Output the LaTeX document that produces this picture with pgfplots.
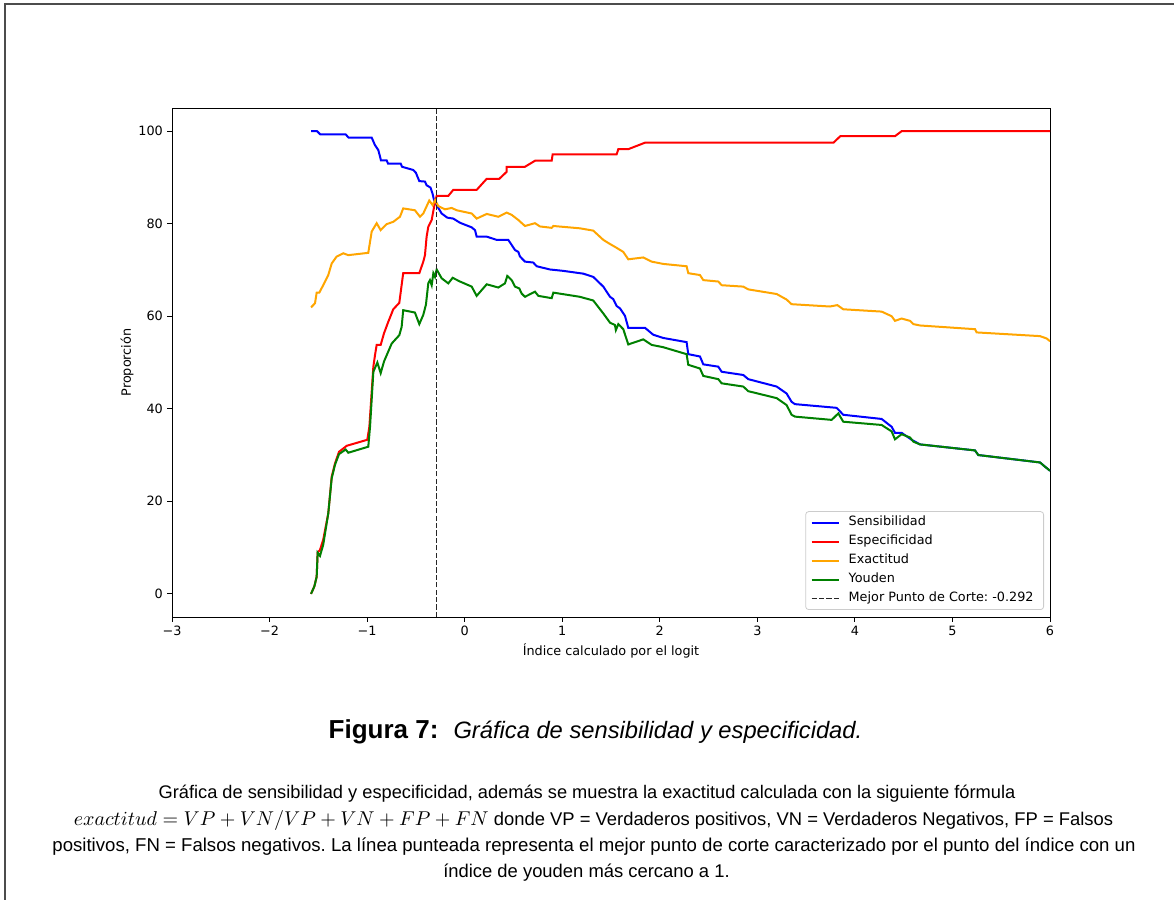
\documentclass[border=0pt]{standalone}
\usepackage{pgfplots}
\pgfplotsset{compat=1.18}
\usepackage{fontspec}
\setmainfont{Liberation Sans}
\newfontfamily\dejavu{DejaVu Sans}
\definecolor{cblue}{RGB}{0,0,255}
\definecolor{cred}{RGB}{255,0,0}
\definecolor{corange}{RGB}{255,165,0}
\definecolor{cgreen}{RGB}{0,128,0}
\newcommand{\tf}{\dejavu\fontsize{6.4}{7.6}\selectfont}
\frenchspacing
\begin{document}
\begin{tikzpicture}
\path[use as bounding box] (0,0) rectangle (587pt,450pt);
\draw[black!70, line width=0.7pt] (2.5pt,0pt) -- (2.5pt,448pt) -- (587pt,448pt);
\begin{axis}[
  at={(86pt,141.5pt)}, anchor=south west,
  scale only axis, width=439pt, height=254.5pt,
  xmin=-3, xmax=6, ymin=-5, ymax=105,
  xtick={-3,-2,-1,0,1,2,3,4,5,6},
  xticklabels={−3,−2,−1,0,1,2,3,4,5,6},
  ytick={0,20,40,60,80,100},
  yticklabels={0,20,40,60,80,100},
  tick pos=left, tick align=outside, major tick length=2.4pt,
  tick style={black, line width=0.4pt},
  axis line style={black, line width=0.4pt},
  ticklabel style={font=\tf, inner sep=0pt},
  xticklabel style={anchor=north},
  yticklabel style={anchor=east},
  xticklabel shift=1.8pt,
  yticklabel shift=2pt,
  xlabel={Índice calculado por el logit},
  ylabel={Proporción},
  label style={font=\tf},
  xlabel style={at={(axis description cs:0.5,0)}, anchor=center, yshift=-17pt},
  ylabel style={at={(axis description cs:0,0.5)}, anchor=center, yshift=22.5pt},
  legend style={at={(1,0)}, anchor=south east, xshift=-3pt, yshift=3.5pt,
    draw=black!20, rounded corners=1.5pt, fill=white, font=\tf,
    inner xsep=2.5pt, inner ysep=0.75pt, row sep=0pt,
    nodes={inner ysep=1.75pt, inner xsep=2.5pt, text height=4.7pt, text depth=1.3pt},
    /tikz/every odd column/.append style={column sep=2pt}},
  legend cell align=left,
  legend image code/.code={\draw[#1] (0pt,0pt) -- (13.5pt,0pt);},
  every axis plot/.append style={line width=1pt},
]
\addplot[cblue] coordinates {
(-1.575,100) (-1.514,100) (-1.48,99.3) (-1.22,99.3) (-1.19,98.6) (-0.953,98.6)
(-0.92,97.0) (-0.885,95.9) (-0.858,93.7) (-0.80,93.7) (-0.786,93.0) (-0.656,93.0)
(-0.642,92.3) (-0.527,91.6) (-0.50,91.0) (-0.465,89.2) (-0.407,89.1) (-0.39,88.3)
(-0.35,87.8) (-0.328,86.4) (-0.314,85.1) (-0.287,84.0) (-0.236,82.2) (-0.178,81.3)
(-0.117,81.1) (-0.048,80.2) (0.072,79.2) (0.106,78.6) (0.123,77.2) (0.226,77.2)
(0.328,76.5) (0.447,76.5) (0.482,75.4) (0.516,74.3) (0.55,73.9) (0.567,72.9)
(0.618,71.8) (0.703,71.6) (0.738,70.8) (0.875,70.1) (1.011,69.8) (1.216,69.2)
(1.318,68.5) (1.421,66.4) (1.49,64.2) (1.523,63.7) (1.558,62.2) (1.592,61.7)
(1.643,60.1) (1.677,57.5) (1.848,57.5) (1.933,56.0) (2.036,55.3) (2.275,54.4)
(2.292,51.8) (2.412,51.3) (2.446,49.6) (2.60,49.1) (2.634,48.0) (2.856,47.3)
(2.907,46.4) (3.198,44.8) (3.30,43.3) (3.351,41.5) (3.386,41.0) (3.813,40.2)
(3.881,38.7) (4.274,37.8) (4.377,36.1) (4.411,34.8) (4.479,34.8) (4.582,33.3)
(4.667,32.3) (5.231,31.0) (5.265,30.0) (5.897,28.4) (5.948,27.5) (6.0,26.6)
};
\addlegendentry{Sensibilidad}
\addplot[cred] coordinates {
(-1.575,0) (-1.541,1.6) (-1.517,3.7) (-1.507,8.9) (-1.50,9.1) (-1.483,9.5)
(-1.45,11.7) (-1.398,17.4) (-1.363,25.3) (-1.329,28.2) (-1.288,30.7) (-1.209,32.0)
(-0.998,33.3) (-0.977,36.1) (-0.936,49.1) (-0.919,51.6) (-0.902,53.8) (-0.861,53.8)
(-0.827,56.3) (-0.783,58.8) (-0.732,61.5) (-0.67,62.9) (-0.63,69.3) (-0.465,69.3)
(-0.424,71.8) (-0.407,73.2) (-0.39,77.2) (-0.373,79.3) (-0.338,80.8) (-0.32,82.9)
(-0.304,84.7) (-0.287,86.0) (-0.168,86.0) (-0.117,87.3) (0.123,87.3) (0.226,89.7)
(0.355,89.7) (0.43,91.2) (0.43,92.3) (0.618,92.3) (0.721,93.6) (0.892,93.6)
(0.902,95.0) (1.558,95.0) (1.575,96.1) (1.677,96.1) (1.848,97.5) (3.78,97.5)
(3.85,98.9) (4.41,98.9) (4.48,100) (6.0,100)
};
\addlegendentry{Especificidad}
\addplot[corange] coordinates {
(-1.575,61.9) (-1.534,62.8) (-1.517,65.1) (-1.49,65.1) (-1.45,66.7) (-1.398,68.9)
(-1.363,71.4) (-1.312,72.9) (-1.244,73.6) (-1.193,73.2) (-0.988,73.7) (-0.953,78.3)
(-0.902,80.1) (-0.861,78.6) (-0.80,79.9) (-0.732,80.4) (-0.663,81.5) (-0.63,83.3)
(-0.51,82.9) (-0.458,81.5) (-0.424,82.2) (-0.363,85.0) (-0.328,84.0) (-0.304,85.1)
(-0.27,83.8) (-0.202,83.1) (-0.133,83.4) (-0.082,82.9) (0.072,82.2) (0.123,81.1)
(0.226,82.1) (0.345,81.5) (0.43,82.4) (0.482,81.9) (0.55,80.8) (0.618,79.5)
(0.721,80.1) (0.772,79.4) (0.892,79.1) (0.909,79.5) (1.18,79.0) (1.318,78.5)
(1.421,76.5) (1.49,75.6) (1.54,75.0) (1.626,73.9) (1.677,72.3) (1.831,72.7)
(1.917,71.8) (2.036,71.3) (2.275,70.8) (2.292,69.3) (2.412,68.9) (2.446,67.8)
(2.60,67.5) (2.634,66.7) (2.856,66.4) (2.907,65.8) (3.198,64.8) (3.30,63.6)
(3.351,62.6) (3.744,62.1) (3.82,62.4) (3.881,61.5) (4.274,61.0) (4.377,60.0)
(4.411,59.0) (4.479,59.5) (4.565,59.0) (4.599,58.3) (4.667,58.0) (5.231,57.2)
(5.248,56.5) (5.897,55.7) (5.965,55.2) (6.0,54.6)
};
\addlegendentry{Exactitud}
\addplot[cgreen] coordinates {
(-1.575,0) (-1.541,1.6) (-1.517,3.7) (-1.507,8.9) (-1.483,8.2) (-1.45,10.6)
(-1.398,17.4) (-1.363,25.0) (-1.329,27.9) (-1.288,30.2) (-1.22,31.2) (-1.193,30.5)
(-0.988,31.8) (-0.97,36.1) (-0.936,48.0) (-0.895,50.0) (-0.861,47.7) (-0.827,50.2)
(-0.748,54.1) (-0.67,55.9) (-0.646,57.7) (-0.63,61.3) (-0.51,60.8) (-0.465,58.3)
(-0.424,60.3) (-0.397,62.5) (-0.373,67.1) (-0.356,67.8) (-0.338,66.7) (-0.321,69.3)
(-0.304,68.5) (-0.287,70.1) (-0.236,68.2) (-0.168,67.1) (-0.123,68.3) (-0.048,67.5)
(0.072,66.4) (0.123,64.4) (0.226,66.9) (0.345,66.2) (0.413,67.1) (0.437,68.7)
(0.482,67.8) (0.516,66.4) (0.56,66.0) (0.584,64.9) (0.618,64.2) (0.721,65.3)
(0.755,64.4) (0.892,63.9) (0.909,65.1) (1.18,64.2) (1.318,63.4) (1.421,60.6)
(1.49,58.6) (1.54,58.1) (1.55,57.0) (1.575,58.3) (1.626,57.2) (1.677,53.9)
(1.831,55.0) (1.917,53.8) (2.036,53.3) (2.275,51.8) (2.292,49.5) (2.412,48.7)
(2.446,47.1) (2.60,46.4) (2.634,45.5) (2.856,44.8) (2.907,43.8) (3.198,42.3)
(3.30,40.8) (3.351,38.7) (3.386,38.3) (3.762,37.6) (3.83,39.0) (3.881,37.2)
(4.274,36.5) (4.377,35.1) (4.411,33.4) (4.479,34.5) (4.565,33.8) (4.599,32.9)
(4.667,32.3) (5.231,31.0) (5.265,30.0) (5.897,28.4) (5.948,27.5) (6.0,26.6)
};
\addlegendentry{Youden}
\addplot[black!85, line width=0.55pt, dash pattern=on 2.6pt off 1.1pt] coordinates {(-0.292,-5) (-0.292,105)};
\addlegendentry{Mejor Punto de Corte: -0.292}
\end{axis}
\node[anchor=base, inner sep=0pt] at (297.75pt,80.5pt) {\fontsize{13}{15}\selectfont\textbf{Figura 7:}\hspace{7.5pt}{\fontsize{11.86}{14}\selectfont\textit{Gráfica de sensibilidad y especificidad.}}};
\node[anchor=base, inner sep=0pt] at (293.5pt,50.5pt) {\fontsize{9.12}{11}\selectfont Gráfica de sensibilidad y especificidad, además se muestra la exactitud calculada con la siguiente fórmula};
\node[anchor=base, inner sep=0pt] at (296.75pt,37pt) {\fontsize{9.2}{11}\selectfont {\fontsize{10.3}{12}\selectfont$exactitud = VP + VN/VP + VN + FP + FN$} donde VP = Verdaderos positivos, VN = Verdaderos Negativos, FP = Falsos};
\node[anchor=base, inner sep=0pt] at (297pt,24pt) {\fontsize{9.3}{11}\selectfont positivos, FN = Falsos negativos. La línea punteada representa el mejor punto de corte caracterizado por el punto del índice con un};
\node[anchor=base, inner sep=0pt] at (293.25pt,11pt) {\fontsize{9.2}{11}\selectfont índice de youden más cercano a 1.};
\end{tikzpicture}
\end{document}
